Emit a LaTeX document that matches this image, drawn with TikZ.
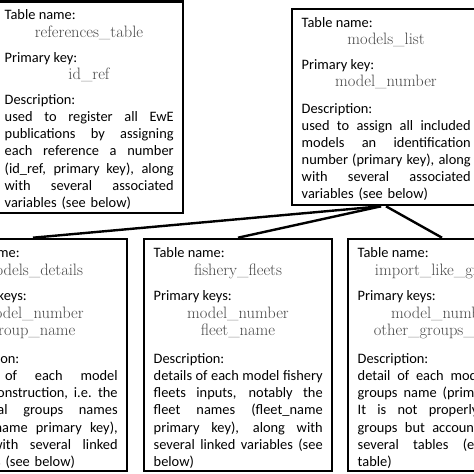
\documentclass[tikz,border=0pt]{standalone}
\usepackage{fontspec}
\newfontfamily\carl{Carlito}
\definecolor{namegray}{RGB}{72,72,72}
\newcommand\txtsz{\fontsize{14.4bp}{17.1bp}\selectfont}
\newcommand\jl[1]{\leavevmode\hbox to 169bp{\spaceskip=.226em plus 20em\relax\xspaceskip=.3em plus 20em\relax#1}}
\tikzset{
 tbox/.style={draw, line width=2.6bp, rectangle, minimum width=188bp, inner sep=0pt},
 lab/.style={font=\carl\txtsz, inner sep=0pt, anchor=base west},
 nm/.style={font=\fontsize{16.5bp}{19bp}\selectfont, text=namegray, inner sep=0pt, anchor=base},
 desc/.style={font=\carl\txtsz, text width=169bp, align=left, inner sep=0pt, anchor=north west},
 link/.style={line width=2.4bp},
}
\begin{document}
\begin{tikzpicture}[x=1bp,y=-1bp]
\useasboundingbox (0,0) rectangle (474,474);
\clip (0,0) rectangle (474,474);

% references_table
\begin{scope}[shift={(-5,1.5)}]
\node[tbox, minimum height=211.5bp] (B1) at (94,105.75) {};
\node[lab] (B1a) at (9.5,18.5) {Table name:};
\node[nm] (B1b) at (94,36) {references\_table};
\node[lab] (B1c) at (9.5,61) {Primary key:};
\node[nm] (B1d) at (94,78) {id\_ref};
\node[desc] (B1e) at (9.5,91) {\strut Description:\\
\jl{used to register all EwE}\\
\jl{publications by assigning}\\
\jl{each reference a number}\\
\jl{(id\_ref, primary key), along}\\
\jl{with several associated}\\
variables (see below)};
\end{scope}

% models_list
\begin{scope}[shift={(292,9)}]
\node[tbox, minimum height=196bp] (B2) at (94,98) {};
\node[lab] (B2a) at (9.5,18.5) {Table name:};
\node[nm] (B2b) at (94,36) {models\_list};
\node[lab] (B2c) at (9.5,61) {Primary key:};
\node[nm] (B2d) at (94,78) {model\_number};
\node[desc] (B2e) at (9.5,92) {\strut Description:\\
\jl{used to assign all included}\\
\jl{models an identification}\\
\jl{number (primary key), along}\\
\jl{with several associated}\\
variables (see below)};
\end{scope}

% models_details
\begin{scope}[shift={(-61,239)}]
\node[tbox, minimum height=232bp] (B3) at (94,116) {};
\node[lab] (B3a) at (9.5,18.5) {Table name:};
\node[nm] (B3b) at (94,36) {models\_details};
\node[lab] (B3c) at (9.5,61.5) {Primary keys:};
\node[nm] (B3d) at (94,79.5) {model\_number};
\node[nm] (B3e) at (94,96.5) {group\_name};
\node[desc] (B3f) at (9.5,112.5) {\strut Description:\\
\jl{details of each model}\\
\jl{model construction, i.e. the}\\
\jl{functional groups names}\\
\jl{(group\_name primary key),}\\
\jl{along with several linked}\\
variables (see below)};
\end{scope}

% fishery_fleets
\begin{scope}[shift={(144,239)}]
\node[tbox, minimum height=232bp] (B4) at (94,116) {};
\node[lab] (B4a) at (9.5,18.5) {Table name:};
\node[nm] (B4b) at (94,36) {fishery\_fleets};
\node[lab] (B4c) at (9.5,61.5) {Primary keys:};
\node[nm] (B4d) at (94,79.5) {model\_number};
\node[nm] (B4e) at (94,96.5) {fleet\_name};
\node[desc] (B4f) at (9.5,112.5) {\strut Description:\\
\jl{details of each model fishery}\\
\jl{fleets inputs, notably the}\\
\jl{fleet names (fleet\_name}\\
\jl{primary key), along with}\\
\jl{several linked variables (see}\\
below)};
\end{scope}

% import_like_groups
\begin{scope}[shift={(348,239)}]
\node[tbox, minimum height=232bp] (B5) at (94,116) {};
\node[lab] (B5a) at (9.5,18.5) {Table name:};
\node[nm] (B5b) at (94,36) {import\_like\_groups};
\node[lab] (B5c) at (9.5,61.5) {Primary keys:};
\node[nm] (B5d) at (94,79.5) {model\_number};
\node[nm] (B5e) at (94,96.5) {other\_groups\_name};
\node[desc] (B5f) at (9.5,112.5) {\strut Description:\\
\jl{detail of each model other}\\
\jl{groups name (primary key).}\\
\jl{It is not properly model}\\
\jl{groups but accounts for in}\\
\jl{several tables (e.g. diet}\\
table)};
\end{scope}

\draw[link] ([xshift=-5bp]B2.south) -- (B3.north);
\draw[link] ([xshift=-5bp]B2.south) -- (B4.north);
\draw[link] (B2.south) -- (B5.north);
\end{tikzpicture}
\end{document}
